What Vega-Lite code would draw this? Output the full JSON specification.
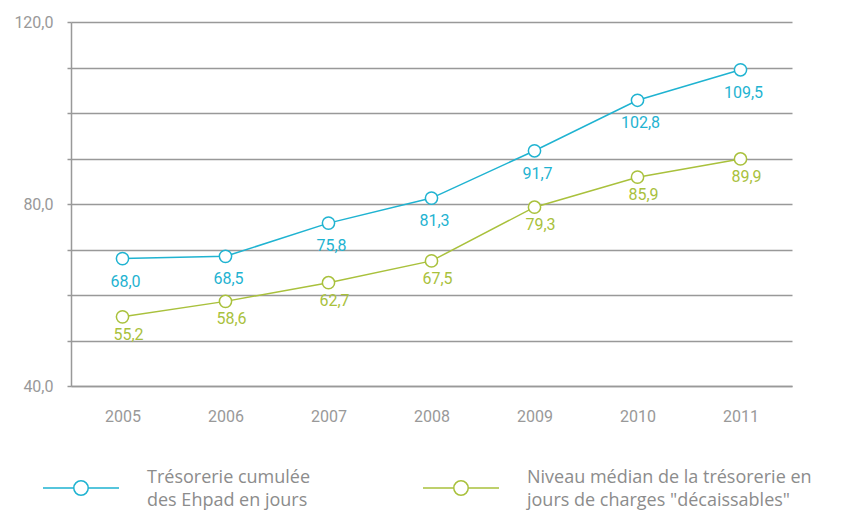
{
  "$schema": "https://vega.github.io/schema/vega-lite/v6.json",
  "width": 721,
  "height": 364,
  "autosize": {"type": "none"},
  "padding": {"left": 71, "top": 22, "right": 51, "bottom": 131},
  "background": "white",
  "config": {
    "locale": {"number": {"decimal": ",", "thousands": " ", "grouping": [3], "currency": ["", " €"]}},
    "view": {"stroke": null},
    "font": "Roboto",
    "axis": {"labelFont": "Roboto", "labelColor": "#999999", "labelFontSize": 16, "domainColor": "#999999", "domainWidth": 1.5, "tickColor": "#999999", "tickWidth": 1.5, "gridColor": "#999999", "gridWidth": 1.5, "gridOpacity": 1, "title": null}
  },
  "data": {
    "values": [
      {"year": "2005", "series": "A", "value": 68.0},
      {"year": "2006", "series": "A", "value": 68.5},
      {"year": "2007", "series": "A", "value": 75.8},
      {"year": "2008", "series": "A", "value": 81.3},
      {"year": "2009", "series": "A", "value": 91.7},
      {"year": "2010", "series": "A", "value": 102.8},
      {"year": "2011", "series": "A", "value": 109.5},
      {"year": "2005", "series": "B", "value": 55.2},
      {"year": "2006", "series": "B", "value": 58.6},
      {"year": "2007", "series": "B", "value": 62.7},
      {"year": "2008", "series": "B", "value": 67.5},
      {"year": "2009", "series": "B", "value": 79.3},
      {"year": "2010", "series": "B", "value": 85.9},
      {"year": "2011", "series": "B", "value": 89.9}
    ]
  },
  "encoding": {
    "x": {"field": "year", "type": "ordinal", "axis": {"labelAngle": 0, "ticks": false, "labelPadding": 22, "domain": true}},
    "y": {"field": "value", "type": "quantitative", "scale": {"domain": [40, 120], "nice": false, "zero": false},
      "axis": {"values": [40, 50, 60, 70, 80, 90, 100, 110, 120], "grid": true, "tickSize": 4, "labelPadding": 14,
        "labelExpr": "datum.value % 40 == 0 ? format(datum.value, '.1f') : ''"}}
  },
  "layer": [
    {
      "mark": {"type": "line", "strokeWidth": 1.5},
      "encoding": {
        "color": {"field": "series", "type": "nominal",
          "scale": {"domain": ["A", "B"], "range": ["#1fb3d1", "#a9c13c"]},
          "legend": {
            "title": null, "orient": "none", "legendX": -29, "legendY": 427, "direction": "horizontal", "columns": 2, "columnPadding": 109, "padding": 0,
            "symbolType": "M-1,0L-0.19,0M0.19,0L1,0M-0.19,0A0.19,0.19 0 1,0 0.19,0A0.19,0.19 0 1,0 -0.19,0",
            "symbolSize": 5776, "symbolStrokeWidth": 1.5, "symbolFillColor": "white",
            "labelOffset": 27, "labelLimit": 400, "labelFontSize": 18, "labelColor": "#8c8c8c", "labelFont": "Open Sans",
            "labelExpr": "datum.label == 'A' ? ['Trésorerie cumulée', 'des Ehpad en jours'] : ['Niveau médian de la trésorerie en', 'jours de charges \"décaissables\"']",
            "encode": {"labels": {"update": {"lineHeight": {"value": 23}, "dy": {"value": -10}}}}
          }
        }
      }
    },
    {
      "mark": {"type": "point", "filled": false, "fill": "white", "fillOpacity": 1, "opacity": 1, "size": 150, "strokeWidth": 1.5},
      "encoding": {"color": {"field": "series", "type": "nominal"}}
    },
    {
      "transform": [{"filter": "datum.series == 'A'"}],
      "mark": {"type": "text", "color": "#1fb3d1", "fontSize": 16, "dy": 23, "dx": 3},
      "encoding": {"text": {"field": "value", "type": "quantitative", "format": ".1f"}}
    },
    {
      "transform": [{"filter": "datum.series == 'B'"}],
      "mark": {"type": "text", "color": "#a9c13c", "fontSize": 16, "dy": 18, "dx": 6},
      "encoding": {"text": {"field": "value", "type": "quantitative", "format": ".1f"}}
    }
  ]
}
